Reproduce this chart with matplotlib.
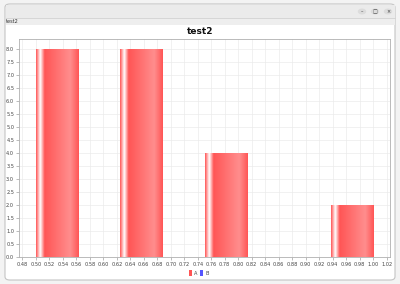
import numpy as np
import matplotlib
matplotlib.use("Agg")
import matplotlib.pyplot as plt
from matplotlib.patches import Rectangle, FancyBboxPatch, Circle, Patch
from matplotlib.colors import to_rgb

# ---- data ----
chart_title = "test2"
window_title = "test2"
bin_starts = [0.5, 0.5625, 0.625, 0.6875, 0.75, 0.8125, 0.875, 0.9375]
bin_width = 0.0625
series_a = [8, 0, 8, 0, 4, 0, 0, 2]
series_names = ["A", "B"]
series_colors = ["#FF5555", "#5555FF"]
x_ticks = [round(0.48 + 0.02 * i, 2) for i in range(28)]
y_ticks = [0.5 * i for i in range(17)]

W, H = 400, 284
fig = plt.figure(figsize=(W / 100, H / 100), dpi=100)
fig.patch.set_facecolor("#f3f3f3")

def fx(x):
    return x / W

def fy(y):
    return 1 - y / H

# window frame
win = FancyBboxPatch((fx(5), fy(280)), fx(390), (280 - 4) / H,
                     boxstyle="round,pad=0,rounding_size=0.012",
                     transform=fig.transFigure, facecolor="white",
                     edgecolor="#c4c4c4", lw=0.8, zorder=-5)
fig.patches.append(win)
# title bar
fig.patches.append(Rectangle((fx(5.5), fy(18)), fx(389), 13.5 / H,
                             transform=fig.transFigure, facecolor="#ebebeb",
                             edgecolor="none", zorder=-4))
fig.patches.append(Rectangle((fx(5.5), fy(25)), fx(389), 7 / H,
                             transform=fig.transFigure, facecolor="#eeeeee",
                             edgecolor="none", zorder=-4))
fig.lines.append(plt.Line2D([fx(5.5), fx(394.5)], [fy(18), fy(18)],
                            transform=fig.transFigure, color="#d2d2d2", lw=0.6,
                            zorder=-3))
for cx, sym in [(362, "–"), (375, "□"), (388, "×")]:
    fig.patches.append(Circle((fx(cx), fy(11.5)), 4.2 / W, transform=fig.transFigure,
                              facecolor="#dcdcdc", edgecolor="none", zorder=-3))
    fig.text(fx(cx), fy(11.8), sym, fontsize=3.5, ha="center", va="center",
             color="#333333")
fig.text(fx(5.5), fy(21.8), window_title, fontsize=3.6, ha="left", va="center",
         color="#333333")

# chart title
fig.text(fx(200), fy(31), chart_title, fontsize=6.5, fontweight="bold",
         ha="center", va="center", color="#111111")

ax = fig.add_axes([fx(19), fy(257), (390 - 19) / W, (257 - 39) / H])
ax.set_zorder(5)
ax.set_facecolor("white")
ax.set_xlim(0.475, 1.025)
ax.set_ylim(0, 8.4)
ax.set_xticks(x_ticks)
ax.set_xticklabels([f"{t:.2f}" for t in x_ticks])
ax.set_yticks(y_ticks)
ax.set_yticklabels([f"{t:.1f}" for t in y_ticks])
ax.tick_params(labelsize=3.6, colors="#888888", labelcolor="#444444",
               length=2, width=0.4, pad=1.5)
ax.grid(True, color="#ebebeb", lw=0.5)
ax.set_axisbelow(True)
for s in ax.spines.values():
    s.set_color("#b0b0b0")
    s.set_linewidth(0.6)

# gradient (JFreeChart-like GradientBarPainter)
c0 = np.array(to_rgb(series_colors[0]))
c1 = np.minimum(c0 / 0.6, 1.0)
white = np.ones(3)
n = 200
t = np.linspace(0, 1, n)
grad = np.zeros((1, n, 3))
for i, v in enumerate(t):
    if v < 0.10:
        f = v / 0.10
        col = c0 * (1 - f) + white * f
    elif v < 0.20:
        f = (v - 0.10) / 0.10
        col = white * (1 - f) + c0 * f
    elif v < 0.80:
        f = (v - 0.20) / 0.60
        col = c0 * (1 - f) + c1 * f
    else:
        f = (v - 0.80) / 0.20
        col = c1 * (1 - f) + c0 * f
    grad[0, i] = col

bars = ax.bar(bin_starts, series_a, width=bin_width, align="edge",
              color=series_colors[0], edgecolor="none", zorder=2)
for b in bars:
    if b.get_height() <= 0:
        continue
    x0, w, h = b.get_x(), b.get_width(), b.get_height()
    im = ax.imshow(grad, extent=(x0, x0 + w, 0, h), aspect="auto",
                   interpolation="bilinear", zorder=3)
    im.set_clip_path(b)
ax.set_xlim(0.475, 1.025)
ax.set_ylim(0, 8.4)

handles = [Patch(facecolor=c, edgecolor="none") for c in series_colors]
leg = fig.legend(handles, series_names, loc="center", bbox_to_anchor=(fx(199), fy(273)),
                 ncol=2, frameon=False, fontsize=3.6, handlelength=0.6,
                 handleheight=1.2, handletextpad=0.4, columnspacing=0.6)
for txt in leg.get_texts():
    txt.set_color("#444444")

fig.savefig("out.png", dpi=100, facecolor=fig.get_facecolor())
